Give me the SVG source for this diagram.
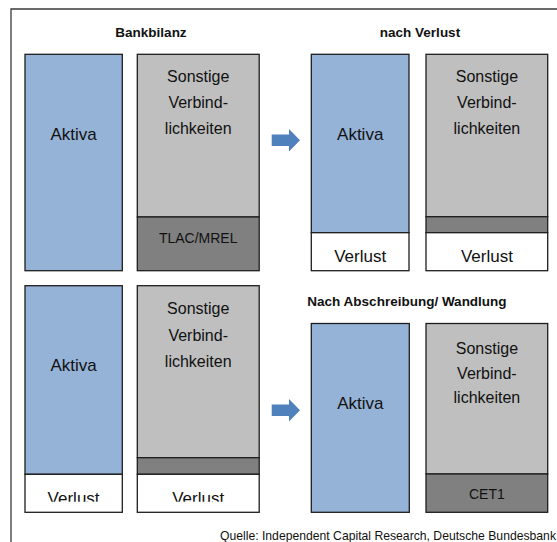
<svg xmlns="http://www.w3.org/2000/svg" width="557" height="542" viewBox="0 0 557 542">
  <style>
    .frame { fill: none; stroke: #3a3a3a; stroke-width: 1.3; }
    .box { stroke: #1e1e1e; stroke-width: 1.3; }
    .assets { fill: #95b3d7; }
    .liab { fill: #bfbfbf; }
    .capital { fill: #808080; }
    .loss { fill: #ffffff; }
    text { font-family: "Liberation Sans", Arial, sans-serif; fill: #111; text-anchor: middle; }
    .title { font-size: 13.5px; font-weight: bold; }
    .big { font-size: 17px; }
    .mid { font-size: 16px; }
    .small { font-size: 14px; }
    .src { font-size: 12.2px; text-anchor: end; }
    .arrow { fill: #4f81bd; }
  </style>
  <defs>
    <clipPath id="clipLoss">
      <rect x="0" y="470" width="270" height="31.8"/>
    </clipPath>
    <path id="arrowShape" d="M0,-5.7 H17.3 V-11.3 L28.3,0 L17.3,11.3 V5.7 H0 Z"/>
  </defs>

  <rect width="557" height="542" fill="#ffffff"/>

  <!-- outer frame: top and left edges only -->
  <path class="frame" d="M11,542 V9 H557"/>

  <!-- section titles -->
  <text class="title" x="151" y="37">Bankbilanz</text>
  <text class="title" x="420" y="37">nach Verlust</text>
  <text class="title" x="407" y="306">Nach Abschreibung/ Wandlung</text>

  <!-- balance sheet: before loss -->
  <g id="assets-initial">
    <rect class="box assets" x="25" y="54.3" width="97.3" height="216.4"/>
    <text class="big" x="73.6" y="140">Aktiva</text>
  </g>
  <g id="liabilities-initial">
    <rect class="box liab" x="137.3" y="54.3" width="121.9" height="162.7"/>
    <rect class="box capital" x="137.3" y="217" width="121.9" height="53.7"/>
    <text class="mid" x="198.2" y="82.3">Sonstige</text>
    <text class="mid" x="198.2" y="107.8">Verbind-</text>
    <text class="mid" x="198.2" y="134">lichkeiten</text>
    <text class="small" x="198.2" y="243.3">TLAC/MREL</text>
  </g>

  <!-- after loss -->
  <g id="assets-after-loss">
    <rect class="box assets" x="311.3" y="54.3" width="97.7" height="178.4"/>
    <rect class="box loss" x="311.3" y="232.7" width="97.7" height="38"/>
    <text class="big" x="360.2" y="140">Aktiva</text>
    <text class="big" x="360.2" y="261.5">Verlust</text>
  </g>
  <g id="liabilities-after-loss">
    <rect class="box liab" x="426" y="54.3" width="121.7" height="162.4"/>
    <rect class="box capital" x="426" y="216.7" width="121.7" height="16"/>
    <rect class="box loss" x="426" y="232.7" width="121.7" height="38"/>
    <text class="mid" x="486.9" y="82.3">Sonstige</text>
    <text class="mid" x="486.9" y="107.8">Verbind-</text>
    <text class="mid" x="486.9" y="134">lichkeiten</text>
    <text class="big" x="486.9" y="261.5">Verlust</text>
  </g>

  <!-- loss, repeated before write-down -->
  <g id="assets-loss">
    <rect class="box assets" x="25" y="285.7" width="97.3" height="188.6"/>
    <rect class="box loss" x="25" y="474.3" width="97.3" height="38"/>
    <text class="big" x="73.6" y="370.5">Aktiva</text>
    <text class="big" x="73.6" y="503.8" clip-path="url(#clipLoss)">Verlust</text>
  </g>
  <g id="liabilities-loss">
    <rect class="box liab" x="137.3" y="285.7" width="121.9" height="172"/>
    <rect class="box capital" x="137.3" y="457.7" width="121.9" height="16.6"/>
    <rect class="box loss" x="137.3" y="474.3" width="121.9" height="38"/>
    <text class="mid" x="198.2" y="314">Sonstige</text>
    <text class="mid" x="198.2" y="340.5">Verbind-</text>
    <text class="mid" x="198.2" y="367">lichkeiten</text>
    <text class="big" x="198.2" y="503.8" clip-path="url(#clipLoss)">Verlust</text>
  </g>

  <!-- after write-down / conversion -->
  <g id="assets-written-down">
    <rect class="box assets" x="311.3" y="323.5" width="98" height="188.8"/>
    <text class="big" x="360.3" y="408.5">Aktiva</text>
  </g>
  <g id="liabilities-converted">
    <rect class="box liab" x="426" y="323.5" width="121.7" height="150.5"/>
    <rect class="box capital" x="426" y="474" width="121.7" height="38.3"/>
    <text class="mid" x="486.9" y="354">Sonstige</text>
    <text class="mid" x="486.9" y="379">Verbind-</text>
    <text class="mid" x="486.9" y="402.5">lichkeiten</text>
    <text class="small" x="486.9" y="499.3">CET1</text>
  </g>

  <!-- transition arrows -->
  <g id="connectors">
    <use class="arrow" href="#arrowShape" x="271.7" y="140.3"/>
    <use class="arrow" href="#arrowShape" x="271.7" y="410.3"/>
  </g>

  <text class="src" x="556" y="539.5">Quelle: Independent Capital Research, Deutsche Bundesbank</text>
</svg>
